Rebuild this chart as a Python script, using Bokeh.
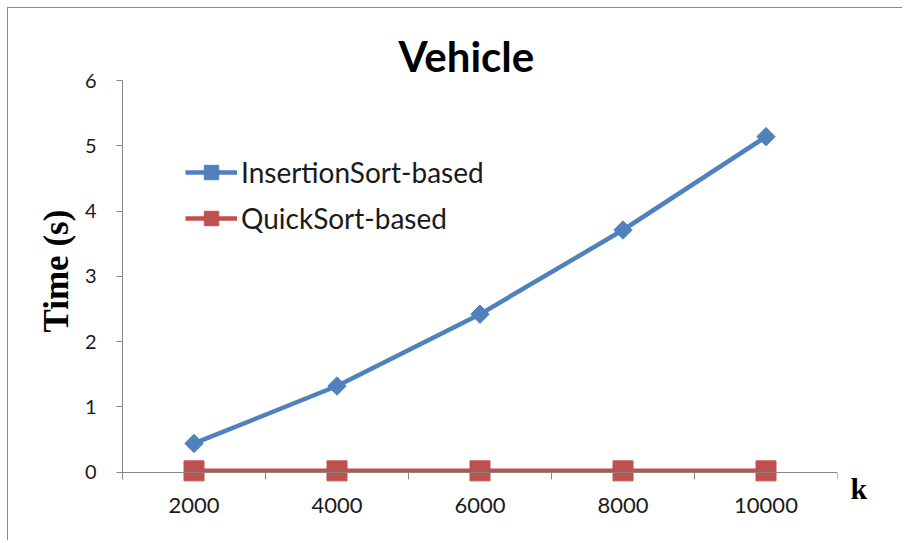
import math
from bokeh.plotting import figure
from bokeh.models import FixedTicker, Legend, LegendItem, LinearAxis, Range1d, Title
from bokeh.embed import file_html
from bokeh.resources import INLINE

# ---- data ----
k_values = [2000, 4000, 6000, 8000, 10000]
k_labels = ["2000", "4000", "6000", "8000", "10000"]
insertion_time = [0.44, 1.32, 2.42, 3.71, 5.14]
quick_time = [0.02, 0.02, 0.02, 0.02, 0.02]
y_ticks = [0, 1, 2, 3, 4, 5, 6]
category_bounds = [1000, 3000, 5000, 7000, 9000, 11000]
x_axis_title = "k"
y_axis_title = "Time (s)"
chart_title = "Vehicle"

BLUE = "#4F81BD"
RED = "#C0504D"
GRAY = "#868686"
SANS = "Lato"
SERIF = "Liberation Serif"

y_lo = -0.25  # room below zero so the markers are not clipped

p = figure(
    frame_width=715, frame_height=408,
    min_border_left=114, min_border_top=72, min_border_right=65, min_border_bottom=52,
    x_range=Range1d(category_bounds[0], category_bounds[-1]),
    y_range=Range1d(y_lo, y_ticks[-1]),
    output_backend="svg", toolbar_location=None,
)
p.margin = (7, 0, 0, 7)
p.styles = {"border-left": "1.5px solid #8c8c8c", "border-top": "1.5px solid #8c8c8c"}
p.outline_line_color = None
p.xgrid.visible = False
p.ygrid.visible = False

# title
p.title.text = chart_title
p.title.text_font = SANS
p.title.text_font_size = "42px"
p.title.text_font_style = "bold"
p.title.text_color = "black"
p.title.align = "left"
p.title.offset = 276
p.title.standoff = 0

# x tick labels (axis at the bottom of the frame, line hidden)
xa = p.xaxis[0]
xa.ticker = FixedTicker(ticks=k_values)
xa.major_label_overrides = {v: l for v, l in zip(k_values, k_labels)}
xa.major_tick_in = 0
xa.major_tick_out = 0
xa.minor_tick_in = 0
xa.minor_tick_out = 0
xa.axis_line_color = None
xa.major_label_text_font = SANS
xa.major_label_text_font_size = "22px"
xa.major_label_text_color = "#1a1a1a"
xa.major_label_standoff = 9

# x axis line with category-boundary ticks, sitting on y = 0
x0 = LinearAxis(fixed_location=0, ticker=FixedTicker(ticks=[], minor_ticks=category_bounds))
x0.axis_line_color = GRAY
x0.minor_tick_in = 0
x0.minor_tick_out = 7
x0.minor_tick_line_color = GRAY
x0.major_tick_line_color = None
p.add_layout(x0, "below")

# y axis
ya = p.yaxis[0]
ya.ticker = FixedTicker(ticks=y_ticks)
ya.bounds = (-0.11, y_ticks[-1])
ya.major_tick_in = 0
ya.major_tick_out = 6
ya.minor_tick_out = 0
ya.minor_tick_in = 0
ya.major_tick_line_color = GRAY
ya.axis_line_color = GRAY
ya.major_label_text_font = SANS
ya.major_label_text_font_size = "20px"
ya.major_label_text_color = "#1a1a1a"
ya.major_label_standoff = 20

y_title = Title(text=y_axis_title, align="left", offset=156, standoff=12,
                text_font=SERIF, text_font_size="35px", text_font_style="bold",
                text_color="black")
p.add_layout(y_title, "left")

# "k" shown as the single label of a bare right-hand axis at the bottom of the frame
k_axis = LinearAxis(ticker=FixedTicker(ticks=[y_lo]), major_label_overrides={y_lo: x_axis_title})
k_axis.axis_line_color = None
k_axis.major_tick_line_color = None
k_axis.minor_tick_line_color = None
k_axis.major_label_standoff = 7
k_axis.major_label_text_font = SERIF
k_axis.major_label_text_font_size = "30px"
k_axis.major_label_text_font_style = "bold"
k_axis.major_label_text_color = "black"
p.add_layout(k_axis, "right")

# series
l1 = p.line(k_values, insertion_time, line_color=BLUE, line_width=4.5)
s1 = p.scatter(k_values, insertion_time, marker="square", angle=math.pi / 4,
               size=13, fill_color=BLUE, line_color=BLUE, line_width=1)
l2 = p.line(k_values, quick_time, line_color=RED, line_width=4.5)
s2 = p.scatter(k_values, quick_time, marker="square", size=20,
               fill_color=RED, line_color=RED, line_width=1)

legend = Legend(
    items=[LegendItem(label="InsertionSort-based", renderers=[l1, s1]),
           LegendItem(label="QuickSort-based", renderers=[l2, s2])],
    location=(63, 252),
    orientation="vertical",
    glyph_width=52, glyph_height=36,
    label_text_font=SANS, label_text_font_size="28px", label_text_color="#1a1a1a",
    label_standoff=4, spacing=10, padding=0, margin=0,
    border_line_color=None, background_fill_alpha=0,
)
p.add_layout(legend, "center")

open("out.html", "w").write(file_html(p, INLINE))
